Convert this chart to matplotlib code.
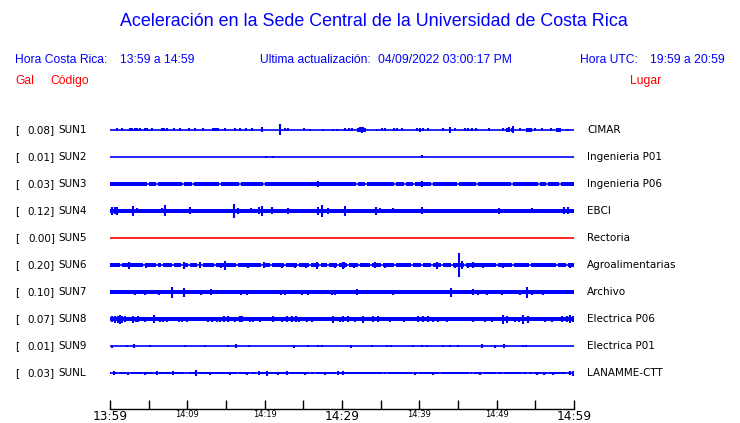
import numpy as np
import matplotlib
matplotlib.use('Agg')
import matplotlib.pyplot as plt

# stations, top to bottom
codes = ['SUN1', 'SUN2', 'SUN3', 'SUN4', 'SUN5', 'SUN6', 'SUN7', 'SUN8', 'SUN9', 'SUNL']
gal = [0.08, 0.01, 0.03, 0.12, 0.00, 0.20, 0.10, 0.07, 0.01, 0.03]
places = ['CIMAR', 'Ingenieria P01', 'Ingenieria P06', 'EBCI', 'Rectoria',
          'Agroalimentarias', 'Archivo', 'Electrica P06', 'Electrica P01', 'LANAMME-CTT']

# minutes after 13:59
t_start, t_end = 0, 60
tick_minutes = list(range(0, 61, 5))
tick_labels = ['13:59', '', '14:09', '', '14:19', '', '14:29', '', '14:39', '', '14:49', '', '14:59']
big_labels = ['13:59', '14:29', '14:59']

# background noise level of each trace (display units)
base_amp = [0.5, 0.5, 1.8, 2.2, 0.5, 1.6, 2.0, 2.3, 0.5, 1.3]

# bursts: time (min) and half amplitude (display units)
sun1_t = [0.94, 1.51, 2.6, 2.9, 3.2, 3.45, 3.88, 4.53, 4.82, 5.39, 6.69, 6.85, 7.02, 7.33, 8.31,
          9.05, 10.22, 10.99, 12.03, 13.36, 13.49, 13.67, 13.93, 14.87, 16.16, 16.77, 17.55,
          18.32, 19.69, 21.94, 22.63, 22.98, 25.12, 25.90, 27.58, 28.87, 29.39, 30.39, 30.94,
          31.25, 32.11, 32.35, 32.55, 32.75, 32.97, 34.56, 35.21, 35.56, 36.72, 37.15, 37.72,
          39.74, 40.09, 40.44, 41.16, 43.10, 43.97, 44.61, 45.91, 46.33, 46.77, 47.33, 49.05,
          50.86, 51.30, 51.63, 51.94, 52.15, 53.02, 53.96, 54.22, 54.40, 54.96, 55.82, 56.99,
          57.76, 57.97, 58.19, 59.27]
sun1_a = [1.5, 1.5, 1.5, 1.5, 1.5, 1.5, 1.5, 1.5, 1.5, 1.5, 1.5, 1.5, 1.5, 1.5, 1.5,
          1.5, 1.5, 1.5, 1.5, 1.5, 1.5, 1.5, 1.5, 1.5, 1.5, 1.5, 1.5,
          1.5, 2.5, 5.5, 1.5, 1.5, 1.5, 1.0, 1.0, 1.0, 1.0, 1.5, 1.5,
          1.5, 2.0, 2.5, 3.0, 2.5, 2.0, 1.0, 1.5, 1.5, 1.5, 1.5, 1.5,
          1.5, 2.0, 1.5, 1.5, 1.5, 3.0, 1.5, 1.5, 1.5, 1.5, 1.5, 1.5,
          1.5, 2.0, 2.5, 2.0, 3.5, 1.5, 2.0, 2.0, 2.0, 1.5, 1.5, 1.5,
          2.0, 2.0, 2.0, 1.0]

sun2_t = [20.21, 21.12, 40.38]
sun2_a = [1.2, 1.2, 1.5]

sun3_t = [26.94, 40.38]
sun3_a = [3.0, 3.0]
sun3_gaps = [4.87, 6.04, 9.40, 10.69, 14.22, 16.81, 19.95, 31.90, 33.10, 36.85, 38.15, 39.31,
             41.60, 45.04, 47.50, 51.94, 55.51, 56.47, 58.19]

sun4_t = [0.30, 0.65, 0.87, 1.59, 3.01, 3.45, 6.69, 7.11, 10.34, 11.34, 16.07, 16.51, 17.11,
          18.23, 19.27, 19.62, 20.99, 23.06, 24.27, 26.94, 27.45, 28.23, 30.39, 31.03, 34.36,
          34.91, 35.78, 36.56, 37.93, 40.31, 48.92, 50.34, 51.30, 54.09, 54.53, 58.75, 59.18]
sun4_a = [4.0, 3.5, 4.0, 2.0, 5.0, 2.5, 2.5, 5.5, 3.5, 2.0, 7.0, 3.0, 2.0,
          2.5, 3.5, 5.0, 3.5, 3.0, 2.0, 4.0, 6.0, 3.0, 5.0, 2.0, 4.0,
          2.5, 2.0, 2.5, 2.0, 3.5, 2.0, 3.0, 2.0, 2.0, 2.5, 3.5, 3.5]

sun6_t = [0.5, 2.50, 3.66, 4.66, 5.47, 6.47, 7.11, 8.62, 9.61, 10.64, 11.64, 12.28, 14.35,
          14.87, 17.88, 19.95, 20.26, 22.28, 23.92, 25.31, 26.73, 27.80, 29.09, 30.17, 30.26,
          31.55, 32.55, 33.19, 34.27, 35.56, 37.28, 38.57, 39.66, 40.86, 42.25, 43.54, 44.61,
          45.17, 45.48, 46.33, 46.98, 48.27, 49.05, 50.86, 52.50, 54.74, 58.19, 59.48]
sun6_a = [1.5, 3.5, 2.0, 2.5, 2.0, 2.0, 2.0, 2.0, 3.5, 2.0, 3.0, 2.0, 2.5,
          4.5, 2.5, 3.0, 2.0, 2.5, 2.5, 2.5, 3.5, 2.0, 2.5, 3.5, 3.0,
          2.5, 2.0, 2.0, 3.0, 2.5, 2.0, 2.0, 2.0, 2.0, 3.5, 2.0, 2.5,
          12.0, 4.0, 2.5, 3.0, 2.5, 2.0, 2.5, 2.0, 2.0, 2.0, 2.5]
sun6_gaps = [1.42, 4.44, 6.04, 6.76, 8.11, 9.27, 10.25, 11.42, 11.94, 13.58, 16.38, 19.62,
             20.82, 22.63, 24.35, 25.86, 27.15, 28.23, 29.52, 30.81, 32.20, 33.71, 35.13,
             36.85, 39.01, 40.31, 41.60, 42.89, 44.19, 45.91, 50.00, 52.15, 54.31, 57.76, 59.05]

sun7_t = [2.29, 3.23, 3.88, 4.53, 5.73, 6.34, 7.98, 9.57, 10.64, 11.77, 12.28, 13.06, 14.22,
          15.65, 16.94, 17.68, 18.62, 19.62, 21.12, 22.11, 22.63, 24.79, 25.56, 26.42, 28.67,
          29.09, 30.30, 30.61, 31.90, 32.97, 33.62, 36.63, 36.98, 37.72, 39.44, 40.09, 40.95,
          42.67, 44.09, 46.90, 47.62, 48.71, 50.65, 51.30, 53.02, 53.88, 54.53, 56.03, 57.32,
          59.48]
sun7_a = [2.0, 2.5, 2.0, 2.5, 2.0, 2.5, 5.5, 4.5, 2.0, 2.5, 2.0, 3.0, 2.0,
          2.0, 2.5, 2.5, 2.0, 2.0, 2.0, 2.5, 2.5, 2.5, 2.5, 2.0, 2.5,
          2.5, 2.0, 2.0, 3.0, 2.0, 2.0, 2.5, 2.0, 2.0, 2.0, 2.0, 2.0,
          2.0, 4.5, 3.0, 2.5, 2.5, 2.5, 2.0, 2.5, 5.5, 2.5, 2.5, 2.0,
          2.0]

sun8_t = [0.22, 0.65, 1.00, 1.29, 1.59, 1.94, 3.01, 3.32, 3.66, 4.53, 4.95, 5.73, 6.47, 6.89,
          7.33, 7.76, 8.92, 9.35, 9.92, 10.99, 11.86, 12.71, 13.15, 13.80, 14.22, 14.78, 15.22,
          16.16, 16.81, 17.11, 18.10, 18.53, 19.40, 20.26, 21.12, 22.20, 22.85, 23.50, 24.01,
          24.44, 25.44, 26.08, 27.15, 28.87, 29.74, 30.17, 30.81, 31.68, 32.75, 34.05, 34.69,
          36.21, 38.06, 39.87, 40.51, 41.16, 41.81, 42.45, 43.54, 45.26, 45.91, 46.98, 48.49,
          49.36, 50.86, 51.30, 52.37, 52.93, 53.44, 54.09, 56.25, 57.12, 58.41, 59.05, 59.48,
          59.91]
sun8_a = [3.0, 3.5, 3.5, 4.5, 3.5, 3.0, 3.5, 2.5, 3.0, 2.5, 2.0, 4.0, 2.5, 2.5,
          2.5, 2.0, 2.5, 2.5, 2.5, 2.0, 2.0, 2.5, 2.5, 2.5, 2.5, 3.0, 3.0,
          2.5, 3.0, 3.0, 2.5, 2.5, 2.5, 2.0, 3.0, 2.5, 3.0, 3.0, 3.0,
          2.5, 2.5, 2.5, 2.0, 3.5, 2.5, 3.0, 3.0, 2.5, 3.5, 3.0, 3.0,
          2.5, 2.5, 3.0, 3.0, 3.0, 2.5, 2.5, 2.5, 2.0, 2.0, 2.5, 2.5,
          2.5, 4.5, 3.5, 2.5, 2.5, 4.5, 3.5, 2.5, 2.5, 3.0, 3.0, 4.0,
          3.0]

sun9_t = [0.30, 2.24, 3.10, 5.17, 9.70, 12.28, 15.22, 16.25, 17.97, 23.79, 25.64, 26.94,
          27.45, 31.12, 33.84, 35.78, 36.34, 39.14, 40.31, 40.95, 43.10, 43.97, 45.04, 48.06,
          49.78, 50.99, 53.44, 53.79]
sun9_a = [1.5, 1.0, 2.0, 1.0, 1.0, 1.0, 1.0, 2.0, 1.0, 1.5, 1.0, 1.0,
          1.0, 1.5, 1.0, 1.0, 1.0, 1.0, 1.0, 1.0, 1.0, 1.0, 1.0, 2.0,
          1.5, 2.0, 1.0, 1.0]

sunl_t = [0.56, 2.37, 4.53, 6.04, 8.19, 11.08, 12.93, 15.52, 17.68, 19.27, 20.26, 21.76,
          22.85, 25.22, 27.80, 29.52, 30.17, 39.44, 41.81, 47.84, 55.18, 56.12, 57.32, 59.48,
          59.91]
sunl_a = [2.0, 1.5, 1.5, 2.0, 2.0, 3.0, 1.5, 1.5, 1.5, 2.0, 2.5, 1.5,
          2.0, 1.5, 1.5, 2.0, 2.0, 1.5, 1.5, 1.5, 1.5, 1.5, 1.5, 2.0,
          2.5]
sunl_gaps = [0.30, 1.07, 2.16, 2.59, 4.44, 5.73, 6.25, 7.98, 9.70, 10.13, 11.42, 16.51,
             18.10, 18.97, 21.76, 23.06, 25.86, 26.51, 29.31, 35.34, 35.78, 39.22, 39.87,
             42.67, 46.55, 46.98, 48.27, 50.00, 50.86, 53.24, 54.09, 54.74, 56.03, 56.68,
             57.32, 59.05, 59.70]

burst_t = [sun1_t, sun2_t, sun3_t, sun4_t, [], sun6_t, sun7_t, sun8_t, sun9_t, sunl_t]
burst_a = [sun1_a, sun2_a, sun3_a, sun4_a, [], sun6_a, sun7_a, sun8_a, sun9_a, sunl_a]
gaps = [[], [], sun3_gaps, [], [], sun6_gaps, [], [], [], sunl_gaps]

W, H = 740, 423
BLUE = '#0000ff'
RED = '#ff0000'
row_step = 27
gap_w = 0.28


def px(x, y):
    return x / W, 1 - y / H


fig = plt.figure(figsize=(W / 100, H / 100), dpi=100)

# header
hfont = 'Liberation Sans'
fig.text(*px(374, 22), 'Aceleración en la Sede Central de la Universidad de Costa Rica',
         color=BLUE, fontsize=12.9, family=hfont, ha='center', va='center')
fig.text(*px(15, 60), 'Hora Costa Rica:', color=BLUE, fontsize=8.7, family=hfont, va='center')
fig.text(*px(120, 60), '13:59 a 14:59', color=BLUE, fontsize=8.7, family=hfont, va='center')
fig.text(*px(260, 60), 'Ultima actualización:', color=BLUE, fontsize=8.7, family=hfont, va='center')
fig.text(*px(378, 60), '04/09/2022 03:00:17 PM', color=BLUE, fontsize=8.7, family=hfont, va='center')
fig.text(*px(580, 60), 'Hora UTC:', color=BLUE, fontsize=8.7, family=hfont, va='center')
fig.text(*px(650, 60), '19:59 a 20:59', color=BLUE, fontsize=8.7, family=hfont, va='center')
fig.text(*px(15, 81), 'Gal', color=RED, fontsize=8.7, family=hfont, va='center')
fig.text(*px(50, 81), 'Código', color=RED, fontsize=8.7, family=hfont, va='center')
fig.text(*px(630, 81), 'Lugar', color=RED, fontsize=8.7, family=hfont, va='center')

# traces
top_px, axis_px, first_row_px = 116, 409, 130
ax = fig.add_axes([110 / W, 1 - axis_px / H, 464 / W, (axis_px - top_px) / H])
ax.set_xlim(t_start, t_end)
ax.set_ylim(axis_px - first_row_px, top_px - first_row_px)

for i, code in enumerate(codes):
    y0 = i * row_step
    col = RED if gal[i] == 0 else BLUE
    ax.plot([t_start, t_end], [y0, y0], color=col, lw=1.2, solid_capstyle='butt')
    b = base_amp[i]
    if b > 0.6:
        edges = [t_start] + sorted(gaps[i]) + [t_end]
        segs = []
        for k in range(len(edges) - 1):
            s = edges[k] + (gap_w / 2 if k > 0 else 0)
            e = edges[k + 1] - (gap_w / 2 if k < len(edges) - 2 else 0)
            if e > s:
                segs.append((s, e - s))
        ax.broken_barh(segs, (y0 - b, 2 * b), facecolor=col, edgecolor='none')
    if burst_t[i]:
        a = np.array(burst_a[i])
        ax.vlines(burst_t[i], y0 - a, y0 + a, color=col, lw=1.5)

    ty = first_row_px + y0
    fig.text(*px(15, ty), '[', fontsize=7.5, va='center')
    fig.text(*px(55, ty), f'{gal[i]:.2f}]', fontsize=7.5, va='center', ha='right')
    fig.text(*px(58, ty), code, fontsize=7.5, va='center')
    fig.text(*px(587, ty), places[i], fontsize=7.5, va='center')

for side in ['top', 'left', 'right']:
    ax.spines[side].set_visible(False)
ax.spines['bottom'].set_linewidth(1.0)
ax.set_yticks([])
ax.set_xticks(tick_minutes)
ax.set_xticklabels(tick_labels)
ax.tick_params(axis='x', direction='in', length=6.5, width=1.0, pad=0.5)
for lab in ax.get_xticklabels():
    lab.set_fontsize(8.8 if lab.get_text() in big_labels else 6)
    lab.set_verticalalignment('top')

fig.savefig('out.png', dpi=100)
